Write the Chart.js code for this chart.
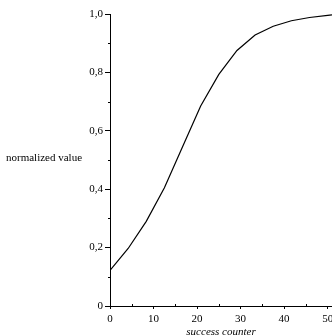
<!DOCTYPE html>
<html>
<head>
<meta charset="utf-8">
<script src="https://cdn.jsdelivr.net/npm/chart.js@4/dist/chart.umd.min.js"></script>
<style>
  html, body { margin: 0; padding: 0; background: #fff; }
  #plot { display: block; }
</style>
</head>
<body>
<canvas id="plot" width="332" height="336"></canvas>
<script>
// sampled curve: success counter vs normalized value
const counter = [0, 4.17, 8.33, 12.5, 16.67, 20.83, 25, 29.17, 33.33, 37.5, 41.67, 45.83, 50, 51];
const normValue = [0.122, 0.197, 0.29, 0.405, 0.545, 0.685, 0.793, 0.875, 0.928, 0.958, 0.977, 0.988, 0.995, 0.997];
const xMajor = [0, 10, 20, 30, 40, 50];
const xMinor = [5, 15, 25, 35, 45];
const yMajor = [0, 0.2, 0.4, 0.6, 0.8, 1.0];
const yMinor = [0.1, 0.3, 0.5, 0.7, 0.9];

const serif = 'Liberation Serif';

// short marks between the labelled ticks, plus the horizontal y title
const extras = {
  id: 'extras',
  afterDraw(chart) {
    const c = chart.ctx;
    const xs = chart.scales.x, ys = chart.scales.y;
    c.save();
    c.strokeStyle = '#000';
    c.lineWidth = 1;
    c.beginPath();
    yMinor.forEach(v => {
      const py = Math.round(ys.getPixelForValue(v)) + 0.5;
      c.moveTo(xs.left - 2, py); c.lineTo(xs.left + 1, py);
    });
    xMinor.forEach(v => {
      const px = Math.round(xs.getPixelForValue(v)) + 0.5;
      c.moveTo(px, ys.bottom - 2); c.lineTo(px, ys.bottom + 1);
    });
    c.stroke();
    c.fillStyle = '#000';
    c.font = '11px ' + serif;
    c.textBaseline = 'middle';
    c.fillText('normalized value', 6, 158);
    c.restore();
  }
};

new Chart(document.getElementById('plot'), {
  type: 'line',
  data: {
    datasets: [{
      data: counter.map((x, i) => ({x: x, y: normValue[i]})),
      borderColor: '#000',
      borderWidth: 1.2,
      pointRadius: 0,
      tension: 0,
      fill: false
    }]
  },
  options: {
    responsive: false,
    animation: false,
    layout: { padding: { top: 14, right: 0, left: 0, bottom: 0 } },
    plugins: { legend: { display: false }, tooltip: { enabled: false } },
    scales: {
      x: {
        type: 'linear',
        min: 0,
        max: 51,
        afterFit(s) { s.height = 30; s.paddingRight = 0; s.paddingLeft = 0; },
        afterBuildTicks(s) { s.ticks = xMajor.map(v => ({value: v})); },
        grid: { drawOnChartArea: false, drawTicks: true, tickLength: 3, color: '#000' },
        border: { display: true, color: '#000', width: 1 },
        ticks: { color: '#000', font: { family: serif, size: 11 }, padding: 4, maxRotation: 0 },
        title: {
          display: true, text: 'success counter', color: '#000',
          font: { family: serif, size: 11, style: 'italic', lineHeight: 0.7 },
          padding: { top: 0, bottom: 0 }
        }
      },
      y: {
        min: 0,
        max: 1,
        afterFit(s) { s.width = 110; s.paddingTop = 0; s.paddingBottom = 0; },
        afterBuildTicks(s) { s.ticks = yMajor.map(v => ({value: v})); },
        grid: { drawOnChartArea: false, drawTicks: true, tickLength: 5, color: '#000' },
        border: { display: true, color: '#000', width: 1 },
        ticks: {
          color: '#000', font: { family: serif, size: 11 }, padding: 2,
          callback: v => v === 0 ? '0' : v.toFixed(1).replace('.', ',')
        }
      }
    }
  },
  plugins: [extras]
});
</script>
</body>
</html>
